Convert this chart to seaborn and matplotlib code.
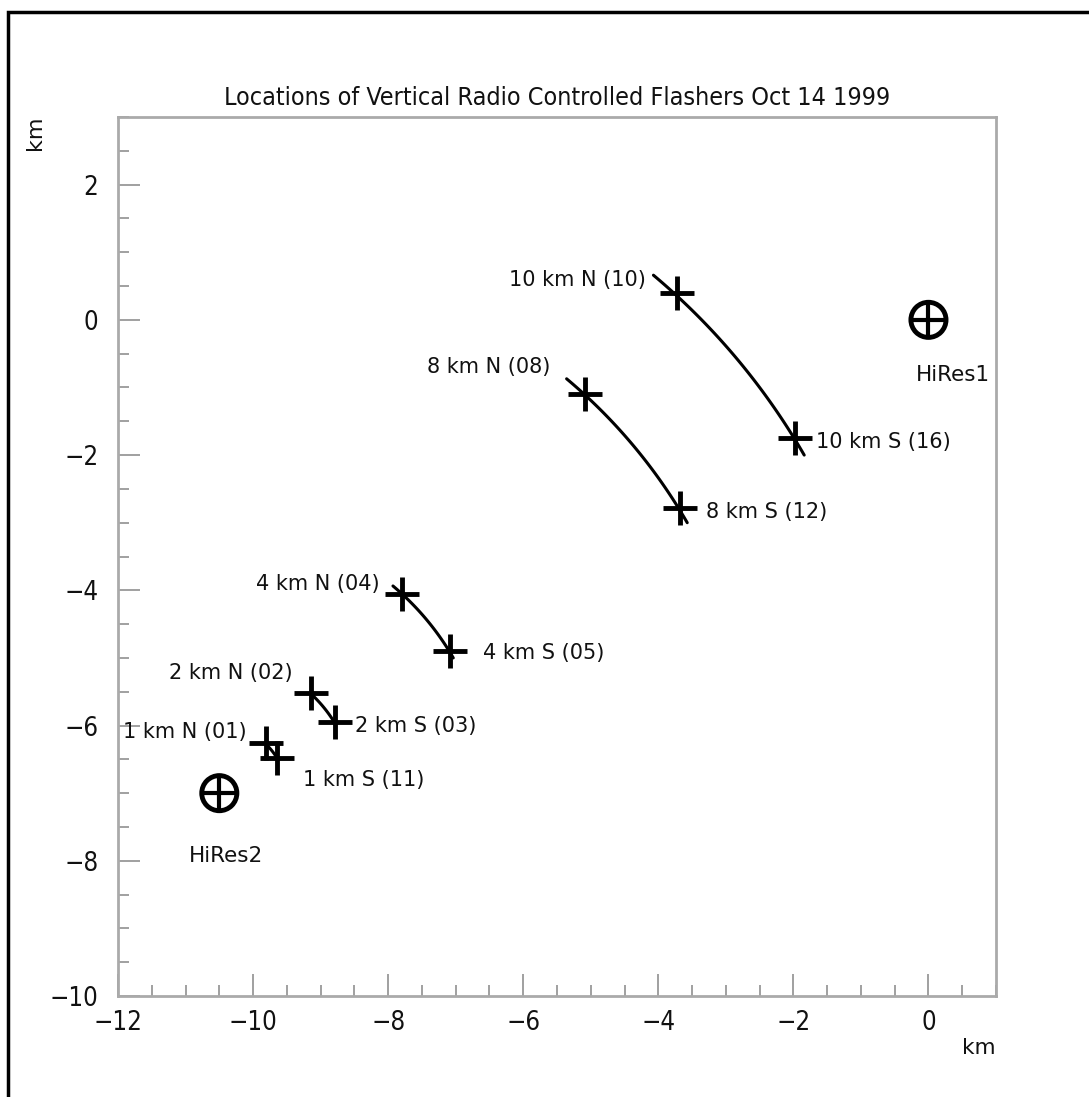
import numpy as np
import pandas as pd
import matplotlib
matplotlib.use("Agg")
import matplotlib.pyplot as plt
from matplotlib.patches import Rectangle
import seaborn as sns

# Flasher positions (km), relative to HiRes1 at the origin
flasher_names = ["10 km N (10)", "10 km S (16)", "8 km N (08)", "8 km S (12)",
                 "4 km N (04)", "4 km S (05)", "2 km N (02)", "2 km S (03)",
                 "1 km N (01)", "1 km S (11)"]
flasher_x = [-3.73, -1.97, -5.09, -3.68, -7.80, -7.08, -9.14, -8.79, -9.81, -9.65]
flasher_y = [0.40, -1.75, -1.10, -2.79, -4.05, -4.90, -5.52, -5.95, -6.26, -6.48]
label_x = [-4.19, -1.66, -5.60, -3.29, -8.12, -6.59, -9.41, -8.49, -10.09, -9.26]
label_y = [0.59, -1.81, -0.70, -2.84, -3.90, -4.92, -5.23, -6.01, -6.10, -6.81]
label_ha = ["right", "left", "right", "left", "right", "left", "right", "left", "right", "left"]

# Detector sites
site_names = ["HiRes1", "HiRes2"]
site_x = [0.0, -10.5]
site_y = [0.0, -7.0]
site_label_x = [0.36, -10.40]
site_label_y = [-0.81, -7.93]

# Arcs of constant distance from HiRes2 (radius in km, bearing range in degrees)
arc_radius = [10, 8, 4, 2, 1]
arc_start_deg = [30.0, 30.0, 30.0, 31.5, 31.5]
arc_end_deg = [50.0, 50.0, 50.0, 47.5, 47.0]

rows = []
for r, a0, a1 in zip(arc_radius, arc_start_deg, arc_end_deg):
    for t in np.linspace(np.radians(a0), np.radians(a1), 60):
        rows.append({"radius": r, "x": site_x[1] + r * np.cos(t), "y": site_y[1] + r * np.sin(t)})
arcs = pd.DataFrame(rows)
flashers = pd.DataFrame({"name": flasher_names, "x": flasher_x, "y": flasher_y})
sites = pd.DataFrame({"name": site_names, "x": site_x, "y": site_y})

sns.set_style("ticks")
plt.rcParams["font.family"] = ["DejaVu Sans"]

W, H = 1089, 1097
fig = plt.figure(figsize=(W / 100, H / 100), dpi=100)
ax = fig.add_axes([118 / W, 1 - 996 / H, (996 - 118) / W, (996 - 117) / H])

sns.lineplot(data=arcs, x="x", y="y", units="radius", estimator=None, sort=False,
             color="black", linewidth=2.2, ax=ax, legend=False)
sns.scatterplot(data=flashers, x="x", y="y", marker="+", s=600, color="black",
                linewidth=3.5, ax=ax, legend=False, zorder=3)
sns.scatterplot(data=sites, x="x", y="y", marker="o", s=640, facecolor="none",
                edgecolor="black", linewidth=3.5, ax=ax, legend=False, zorder=3)
sns.scatterplot(data=sites, x="x", y="y", marker="+", s=640, color="black",
                linewidth=3.0, ax=ax, legend=False, zorder=3)

for name, lx, ly, ha in zip(flasher_names, label_x, label_y, label_ha):
    ax.text(lx, ly, name, ha=ha, va="center", fontsize=15, color="#111111")
for name, lx, ly in zip(site_names, site_label_x, site_label_y):
    ax.text(lx, ly, name, ha="center", va="center", fontsize=15.5, color="#111111")

ax.set_xlim(-12, 1)
ax.set_ylim(-10, 3)
ax.set_xticks(np.arange(-12, 1, 2))
ax.set_yticks(np.arange(-10, 3, 2))
ax.set_xticks(np.arange(-12, 1.01, 0.5), minor=True)
ax.set_yticks(np.arange(-10, 3.01, 0.5), minor=True)
ax.set_xticklabels([f"\u2212{abs(v)}" if v < 0 else str(v) for v in range(-12, 1, 2)])
ax.set_yticklabels([f"\u2212{abs(v)}" if v < 0 else str(v) for v in range(-10, 3, 2)])
ax.tick_params(which="major", direction="in", length=16, width=1.3, color="#999999",
               labelsize=18.5, pad=10, labelcolor="#111111")
ax.tick_params(which="minor", direction="in", length=8, width=1.3, color="#999999")
ax.tick_params(axis="y", which="both", left=True, right=False, pad=14)
ax.tick_params(axis="x", which="both", bottom=True, top=False)
for label in ax.get_xticklabels() + ax.get_yticklabels():
    label.set_fontstretch("condensed")
for side in ax.spines.values():
    side.set_color("#aaaaaa")
    side.set_linewidth(2)
ax.set_xlabel("")
ax.set_ylabel("")

fig.text(557 / W, 1 - 98 / H, "Locations of Vertical Radio Controlled Flashers Oct 14 1999",
         ha="center", va="center", fontsize=18, fontstretch="condensed", color="#111111")
fig.text(35 / W, 1 - 133 / H, "km", rotation=90, ha="center", va="center", fontsize=16,
         color="#111111")
fig.text(979 / W, 1 - 1048 / H, "km", ha="center", va="center", fontsize=15.5, color="#111111")

# Frame around the page
fig.patches.append(Rectangle((8 / W, -0.1), 1.2, 1 - 12 / H + 0.1, transform=fig.transFigure,
                             fill=False, edgecolor="black", linewidth=2.5, clip_on=False))

fig.savefig("out.png", dpi=100)
